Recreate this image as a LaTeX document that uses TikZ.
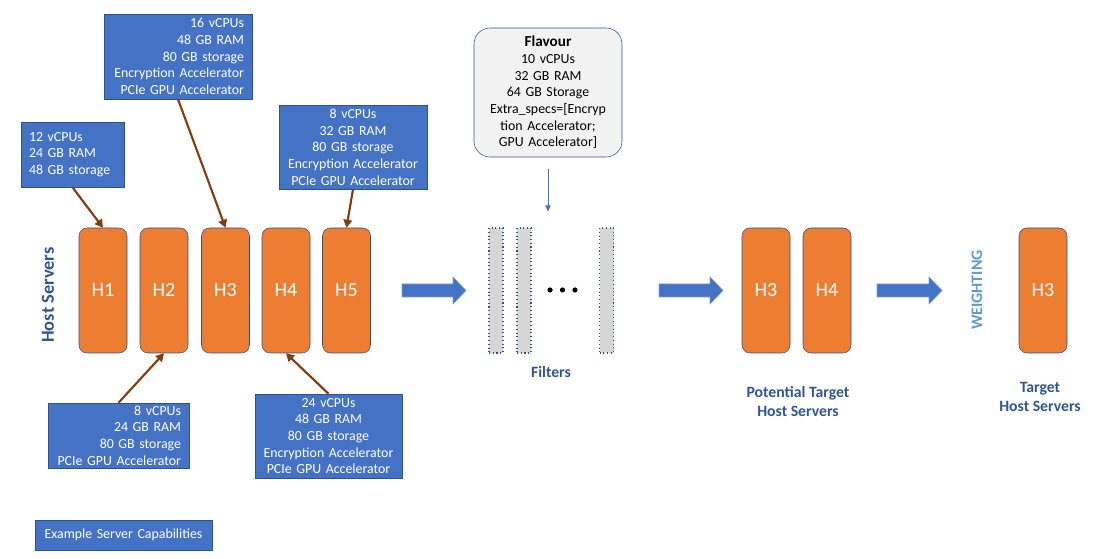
\documentclass[tikz,border=0pt]{standalone}
\usepackage{fontspec}
\setmainfont{Carlito}
\usetikzlibrary{arrows.meta}
\definecolor{boxblue}{HTML}{4472C4}
\definecolor{edgeblue}{HTML}{2F528F}
\definecolor{hostorange}{HTML}{ED7D31}
\definecolor{linkbrown}{HTML}{843C0C}
\definecolor{labelblue}{HTML}{2F5597}
\definecolor{weightblue}{HTML}{5B9BD5}
\definecolor{flavourgray}{HTML}{F2F2F2}
\definecolor{filtergray}{HTML}{D6D6D6}
\tikzset{
  host/.style={draw=edgeblue,fill=hostorange,rounded corners=6pt,minimum width=36pt,minimum height=93.75pt,text=white,font=\fontsize{15}{18}\selectfont},
  specbox/.style={draw=edgeblue,fill=boxblue,text=white,inner xsep=6pt,inner ysep=0pt,font=\fontsize{10.4}{12.5}\selectfont},
  filterbar/.style={draw=edgeblue,dotted,thick,fill=filtergray,minimum width=10.5pt,minimum height=93.75pt,inner sep=0pt},
  capability/.style={draw=linkbrown,line width=1.6pt,-{Triangle[length=6pt,width=6.5pt]}},
  bigarrow/.style={fill=boxblue,draw=boxblue!70!white,line width=0.4pt},
  stagelabel/.style={text=labelblue,font=\bfseries\fontsize{11.8}{14.25}\selectfont,align=center}
}
\begin{document}
\begin{tikzpicture}[x=0.75pt,y=-0.75pt]
\useasboundingbox (0,0) rectangle (1093,559);
%Host servers
\node[stagelabel,font=\bfseries\fontsize{13.8}{16}\selectfont,rotate=90] (hostlabel) at (48,295) {Host Servers};
\node[host] (h1) at (103,290.5) {H1};
\node[host] (h2) at (164,290.5) {H2};
\node[host] (h3) at (225.5,290.5) {H3};
\node[host] (h4) at (286,290.5) {H4};
\node[host] (h5) at (346.5,290.5) {H5};
%Capabilities
\node[specbox,text width=65.25pt,minimum height=48.75pt,align=left] (cap1) at (72.5,154.5) {12 vCPUs\\24 GB RAM\\48 GB storage};
\node[specbox,text width=99pt,minimum height=63.75pt,align=right] (cap3) at (178,56.5) {16 vCPUs\\48 GB RAM\\80 GB storage\\Encryption Accelerator\\PCIe GPU Accelerator};
\node[specbox,text width=99pt,minimum height=63pt,align=center] (cap5) at (353,147) {8 vCPUs\\32 GB RAM\\80 GB storage\\Encryption Accelerator\\PCIe GPU Accelerator};
\node[specbox,text width=93.75pt,minimum height=48.75pt,align=right] (cap2) at (118.5,435.5) {8 vCPUs\\24 GB RAM\\80 GB storage\\PCIe GPU Accelerator};
\node[specbox,text width=98.25pt,minimum height=63pt,align=center] (cap4) at (328.5,436) {24 vCPUs\\48 GB RAM\\80 GB storage\\Encryption Accelerator\\PCIe GPU Accelerator};
\node[specbox,text width=120.75pt,minimum height=22.5pt,align=center] (legend) at (123.5,535) {Example Server Capabilities};
\draw[capability] (cap1.south) -- (h1.north);
\draw[capability] (cap3.south) -- (h3.north);
\draw[capability] (cap5.south) -- (h5.north);
\draw[capability] (cap2.north) -- (h2.south);
\draw[capability] (cap4.north) -- (h4.south);
%Filters
\draw[bigarrow] (402,284) -- (453,284) -- (453,277) -- (466,290.5) -- (453,304) -- (453,297) -- (402,297) -- cycle;
\node[filterbar] (filt1) at (496,290.5) {};
\node[filterbar] (filt2) at (524,290.5) {};
\node[filterbar] (filt3) at (606.5,290.5) {};
\fill (550,290) circle (2.6) (562.5,290) circle (2.6) (575,290) circle (2.6);
\node[stagelabel] (filtlabel) at (551,372) {Filters};
%Flavour
\node[draw=edgeblue,fill=flavourgray,rounded corners=12pt,text width=99pt,minimum height=96.75pt,inner xsep=6pt,align=center,font=\fontsize{10.4}{12.5}\selectfont] (flavour) at (548,92.5) {{\bfseries\fontsize{11.4}{12.5}\selectfont Flavour}\\10 vCPUs\\32 GB RAM\\64 GB Storage\\Extra\_specs=[Encryp\\tion Accelerator;\\GPU Accelerator]};
\draw[boxblue,-{Triangle[length=4.5pt,width=4pt]},shorten <=9pt,shorten >=12pt] (flavour.south) -- (flavour.south |- filt1.north);
%Potential target
\draw[bigarrow] (659,284) -- (710,284) -- (710,277) -- (723,290.5) -- (710,304) -- (710,297) -- (659,297) -- cycle;
\node[host] (p3) at (766,290.5) {H3};
\node[host] (p4) at (827,290.5) {H4};
\node[stagelabel] (potlabel) at (798,402) {Potential Target\\Host Servers};
%Weighting
\draw[bigarrow] (877,284) -- (929,284) -- (929,277) -- (942,290.5) -- (929,304) -- (929,297) -- (877,297) -- cycle;
\node[text=weightblue,font=\bfseries\fontsize{12}{14}\selectfont,rotate=90] (weighting) at (977,290) {WEIGHTING};
\node[host] (t3) at (1043,290.5) {H3};
\node[stagelabel] (targetlabel) at (1040,397) {Target\\Host Servers};
\end{tikzpicture}
\end{document}
